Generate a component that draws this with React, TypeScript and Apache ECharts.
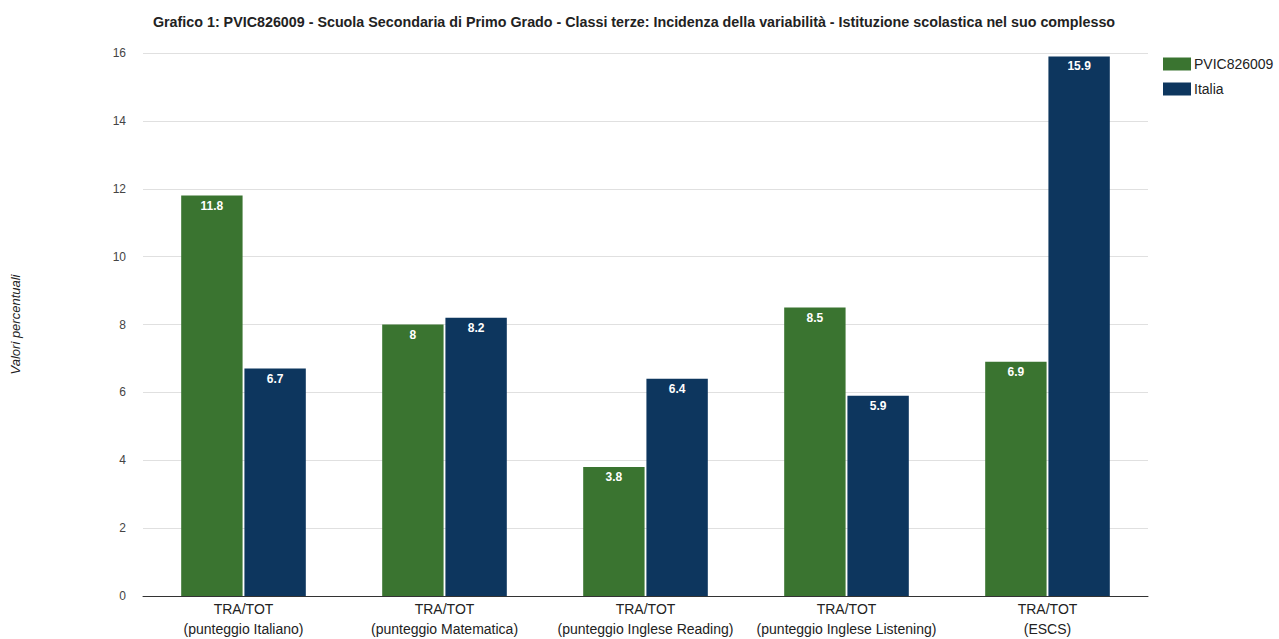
import React, { useEffect, useRef } from "react";
import * as echarts from "echarts";

const categories = [
  "TRA/TOT\n(punteggio Italiano)",
  "TRA/TOT\n(punteggio Matematica)",
  "TRA/TOT\n(punteggio Inglese Reading)",
  "TRA/TOT\n(punteggio Inglese Listening)",
  "TRA/TOT\n(ESCS)",
];
const schoolValues = [11.8, 8, 3.8, 8.5, 6.9];
const italiaValues = [6.7, 8.2, 6.4, 5.9, 15.9];
const seriesNames = ["PVIC826009", "Italia"];
const titleText =
  "Grafico 1: PVIC826009 - Scuola Secondaria di Primo Grado - Classi terze: Incidenza della variabilità - Istituzione scolastica nel suo complesso";

const FONT = "Arial, Liberation Sans";

export default function App() {
  const ref = useRef<HTMLDivElement>(null);
  useEffect(() => {
    if (!ref.current) return;
    const chart = echarts.init(ref.current, null, { renderer: "svg" });
    const label = {
      show: true,
      position: "insideTop",
      color: "#ffffff",
      fontWeight: "bold",
      fontSize: 12,
      fontFamily: FONT,
      distance: 4,
    };
    chart.setOption({
      animation: false,
      backgroundColor: "#ffffff",
      title: {
        text: titleText,
        left: 629,
        textAlign: "center",
        top: 10,
        textStyle: {
          fontSize: 14.3,
          fontWeight: "bold",
          color: "#222222",
          fontFamily: FONT,
        },
      },
      legend: {
        orient: "vertical",
        left: 1158,
        top: 52,
        itemWidth: 28,
        itemHeight: 13,
        itemGap: 11,
        icon: "rect",
        textStyle: { fontSize: 14, color: "#222222", fontFamily: FONT, padding: [0, 0, 0, -2] },
        data: seriesNames,
      },
      grid: { left: 143, right: 131, top: 53, bottom: 39, containLabel: false },
      xAxis: {
        type: "category",
        data: categories,
        axisTick: { show: false },
        axisLine: { lineStyle: { color: "#333333", width: 1 } },
        axisLabel: {
          color: "#222222",
          fontSize: 14,
          fontFamily: FONT,
          lineHeight: 20,
          margin: 3,
          interval: 0,
        },
      },
      yAxis: {
        type: "value",
        min: 0,
        max: 16,
        interval: 2,
        name: "Valori percentuali",
        nameLocation: "middle",
        nameGap: 121,
        nameTextStyle: {
          fontStyle: "italic",
          fontSize: 13,
          color: "#222222",
          fontFamily: FONT,
        },
        axisLabel: { color: "#444444", fontSize: 12, fontFamily: FONT, margin: 17 },
        splitLine: { lineStyle: { color: "#e0e0e0" } },
        axisLine: { show: false },
        axisTick: { show: false },
      },
      series: [
        {
          name: seriesNames[0],
          type: "bar",
          data: schoolValues,
          itemStyle: { color: "#3a7430" },
          barGap: "3%",
          barCategoryGap: "38%",
          label,
        },
        {
          name: seriesNames[1],
          type: "bar",
          data: italiaValues,
          itemStyle: { color: "#0d365e" },
          label,
        },
      ],
    });
    return () => chart.dispose();
  }, []);
  return (
    <div
      ref={ref}
      style={{ position: "absolute", left: 0, top: 0, width: 1279, height: 639 }}
    />
  );
}
